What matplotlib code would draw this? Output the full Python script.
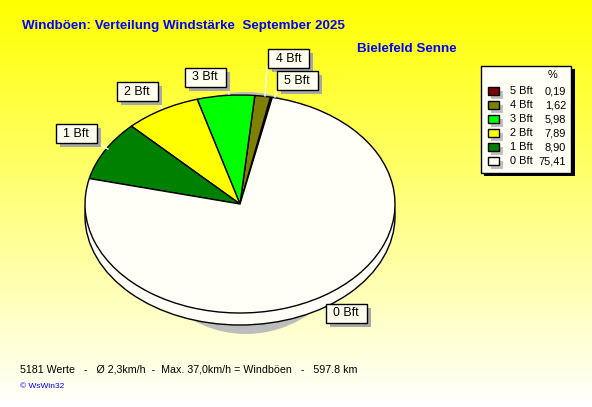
import numpy as np
import matplotlib
matplotlib.use("Agg")
import matplotlib.pyplot as plt
from matplotlib.patches import Ellipse, Rectangle

plt.rcParams["font.family"] = ["Liberation Sans", "DejaVu Sans"]

# ---------------------------------------------------------------------------
# Data
# ---------------------------------------------------------------------------
categories = ["5 Bft", "4 Bft", "3 Bft", "2 Bft", "1 Bft", "0 Bft"]
shares = [0.19, 1.62, 5.98, 7.89, 8.90, 75.41]
share_labels = ["0,19", "1,62", "5,98", "7,89", "8,90", "75,41"]
colors = ["#800000", "#808000", "#00ff00", "#ffff00", "#008000", "#fffff8"]

W, H = 592, 407
fig = plt.figure(figsize=(W / 100, H / 100), dpi=100)

# whole figure in pixel coordinates, y pointing down
bg = fig.add_axes([0, 0, 1, 1], zorder=0)
bg.set_xlim(0, W)
bg.set_ylim(H, 0)
bg.axis("off")
grad = np.ones((H, 1, 3))
grad[:, 0, 2] = np.linspace(0, 1, H)
bg.imshow(grad, extent=(0, W, H, 0), aspect="auto", interpolation="bilinear")

# ---------------------------------------------------------------------------
# Pie, squashed to an ellipse
# ---------------------------------------------------------------------------
cx, cy, rx, ry = 240, 204, 155, 109
depth = 12
pie_ax = fig.add_axes([(cx - rx) / W, 1 - (cy + ry) / H, 2 * rx / W, 2 * ry / H], zorder=1)
pie_ax.pie(shares, colors=colors, startangle=78, counterclock=True, radius=1,
           wedgeprops=dict(edgecolor="black", linewidth=1, clip_on=False))
pie_ax.set_aspect("auto")
pie_ax.set_xlim(-1, 1)
pie_ax.set_ylim(-1, 1)

# grey shadow and the side of the disc go under the wedges
pie_ax.add_patch(Ellipse(((246 - cx) / rx, -(213 - cy) / ry), 2 * 115 / rx, 2 * 121 / ry,
                         facecolor="#bdbdbd", edgecolor="none", zorder=-3, clip_on=False))
pie_ax.add_patch(Ellipse((0, -depth / ry), 2, 2, facecolor="#fffff8", edgecolor="black",
                         linewidth=1, zorder=-2, clip_on=False))

# ---------------------------------------------------------------------------
# Overlay: titles, callouts, legend
# ---------------------------------------------------------------------------
ov = fig.add_axes([0, 0, 1, 1], zorder=2)
ov.set_xlim(0, W)
ov.set_ylim(H, 0)
ov.axis("off")

ov.text(22, 25.5, "Windböen: Verteilung Windstärke  September 2025", color="#0000ff",
        fontsize=9.6, fontweight="bold", va="center", ha="left")
ov.text(357, 49.5, "Bielefeld Senne", color="#0000ff", fontsize=9.6, fontweight="bold",
        va="center", ha="left")

# callouts: label -> box left/top, leader line
callouts = {
    "1 Bft": ((55.5, 124), [(97, 143), (108, 149)]),
    "2 Bft": ((116.5, 82), [(158, 101), (162, 108)]),
    "3 Bft": ((184.5, 67.5), [(228, 86), (229, 94)]),
    "4 Bft": ((267.5, 48.5), [(267, 67), (265, 96)]),
    "5 Bft": ((276.5, 70.5), [(277, 90), (275, 97)]),
    "0 Bft": ((325.5, 303.5), []),
}
box_w, box_h = 41.5, 19
for name, ((bx, by), leader) in callouts.items():
    if leader:
        xs, ys = zip(*leader)
        ov.plot(xs, ys, color="white", lw=1, zorder=2)
    ov.add_patch(Rectangle((bx + 4, by + 4), box_w, box_h, facecolor="#a8a8a8",
                           edgecolor="none", zorder=3))
    ov.add_patch(Rectangle((bx, by), box_w, box_h, facecolor="#fffff0", edgecolor="black",
                           linewidth=1, zorder=4))
    ov.text(bx + box_w / 2, by + box_h / 2 + 0.5, name, fontsize=8.9, ha="center",
            va="center", color="black", zorder=5)

# legend
ov.add_patch(Rectangle((484, 69), 90.5, 107, facecolor="black", edgecolor="none", zorder=3))
ov.add_patch(Rectangle((480.5, 65.5), 90, 107, facecolor="#fffff5", edgecolor="black",
                       linewidth=1, zorder=4))
ov.text(553, 75.5, "%", fontsize=7.9, ha="center", va="center", zorder=5)
row_y = [91, 105, 119, 133, 147, 161]
for y, name, val, col in zip(row_y, categories, share_labels, colors):
    ov.add_patch(Rectangle((491, y), 12, 7.5, facecolor="#c0c0c0", edgecolor="none", zorder=5))
    ov.add_patch(Rectangle((487.5, y - 4), 11.5, 7.5, facecolor=col, edgecolor="black",
                           linewidth=1, zorder=6))
    ov.text(510, y, name, fontsize=7.9, ha="left", va="center", zorder=6)
    ov.text(566, y, val, fontsize=7.9, ha="right", va="center", zorder=6)

# footer
ov.text(20, 369, "5181 Werte   -   Ø 2,3km/h  -  Max. 37,0km/h = Windböen   -   597.8 km",
        fontsize=7.7, ha="left", va="center", color="black")
ov.text(20, 386, "© WsWin32", fontsize=6, ha="left", va="center", color="#0000ff")

fig.savefig("out.png", dpi=100)
